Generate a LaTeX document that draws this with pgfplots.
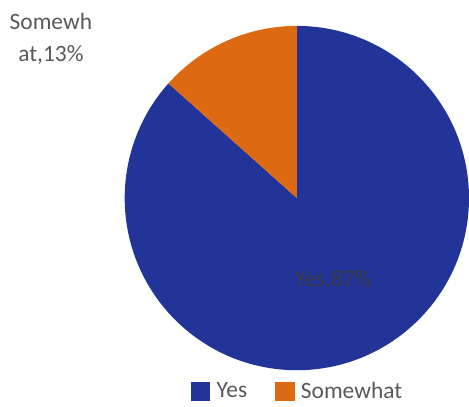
\documentclass[border=0pt]{standalone}
\usepackage{pgfplots}
\usepackage{pgfplotstable}
\pgfplotsset{compat=1.18}
\usepackage{fontspec}
\setmainfont{Carlito}
\definecolor{yescol}{RGB}{34,52,152}
\definecolor{somecol}{RGB}{221,106,18}
\definecolor{txtgray}{RGB}{89,89,89}
\definecolor{lblgray}{RGB}{60,60,70}
\pgfplotstableread{
label value
Yes 86.6
Somewhat 13.4
}\piedata
\begin{document}
\begin{tikzpicture}
\pgfplotstablegetelem{0}{value}\of\piedata \pgfmathsetmacro\vyes{\pgfplotsretval}
\pgfplotstablegetelem{1}{value}\of\piedata \pgfmathsetmacro\vsome{\pgfplotsretval}
\pgfmathsetmacro\ayes{90-3.6*\vyes}
\pgfmathsetmacro\asome{\ayes-3.6*\vsome}
\def\R{129.4pt}
\begin{axis}[hide axis, scale only axis, width=351.75pt, height=305.25pt,
  xmin=0, xmax=469, ymin=0, ymax=407, clip=false,
  legend style={at={(axis cs:298.5,15)}, anchor=center, draw=none, fill=none,
    legend columns=2, font=\fontsize{17.6}{20}\selectfont, text=txtgray,
    /tikz/every even column/.append style={column sep=19pt}},
  legend image code/.code={\fill (0pt,-7pt) rectangle (14pt,7pt); \path (17pt,0pt);}]
\path (rel axis cs:0,0) (rel axis cs:1,1);
\addlegendimage{yescol}
\addlegendentry{Yes}
\addlegendimage{somecol}
\addlegendentry{Somewhat}
\fill[yescol] (axis cs:297.5,208.5) -- ++(90:\R) arc[start angle=90, end angle=\ayes, radius=\R] -- cycle;
\fill[somecol] (axis cs:297.5,208.5) -- ++(\ayes:\R) arc[start angle=\ayes, end angle=\asome, radius=\R] -- cycle;
\node[text=lblgray, font=\fontsize{17.6}{20}\selectfont] at (axis cs:334,126) {Yes,87\%};
\node[text=txtgray, align=center, font=\fontsize{17.6}{24}\selectfont] at (axis cs:51,368) {Somewh\\at,13\%};
\end{axis}
\end{tikzpicture}
\end{document}
